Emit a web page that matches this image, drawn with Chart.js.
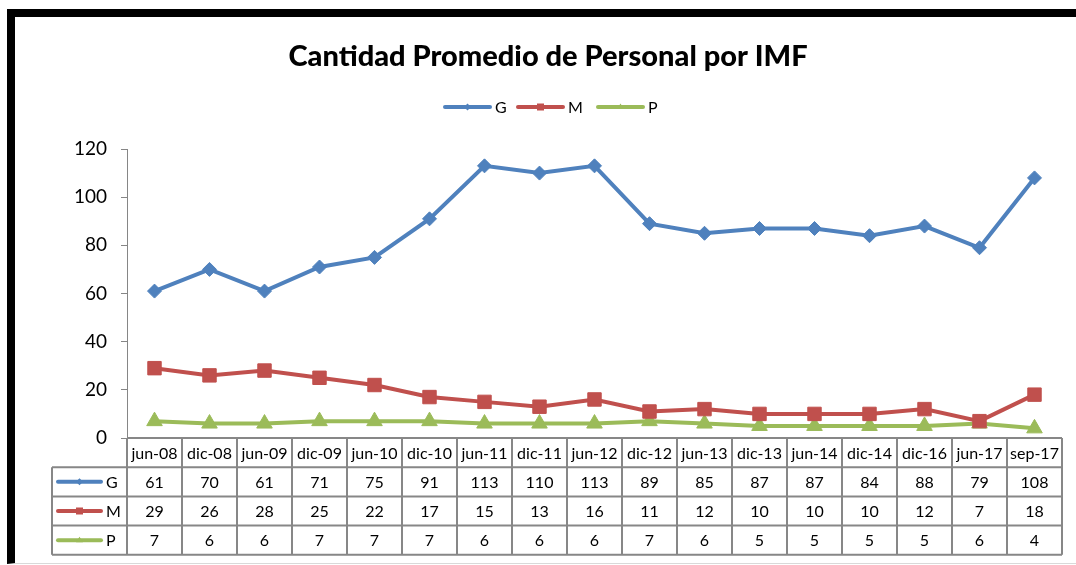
<!DOCTYPE html>
<html><head><meta charset="utf-8">
<script src="https://cdn.jsdelivr.net/npm/chart.js@4.4.0/dist/chart.umd.min.js"></script>
<style>
html,body{margin:0;padding:0;background:#fff;width:1076px;height:565px;overflow:hidden;}
#frame{position:absolute;left:7px;top:9px;width:1200px;height:546px;border-left:8px solid #000;border-top:8px solid #000;border-bottom:1px solid #d9d9d9;}
#wrap{position:absolute;left:0;top:0;width:1076px;height:565px;}
</style></head><body>
<div id="frame"></div>
<div id="wrap"><canvas id="c"></canvas></div>
<script>
const categories = ['jun-08','dic-08','jun-09','dic-09','jun-10','dic-10','jun-11','dic-11','jun-12','dic-12','jun-13','dic-13','jun-14','dic-14','dic-16','jun-17','sep-17'];
const seriesG = [61,70,61,71,75,91,113,110,113,89,85,87,87,84,88,79,108];
const seriesM = [29,26,28,25,22,17,15,13,16,11,12,10,10,10,12,7,18];
const seriesP = [7,6,6,7,7,7,6,6,6,7,6,5,5,5,5,6,4];
const seriesNames = ['G','M','P'];
const yTicks = [0,20,40,60,80,100,120];
const titleText = 'Cantidad Promedio de Personal por IMF';

const colors = ['#4F81BD','#C0504D','#9BBB59'];
const styles = ['rectRot','rect','triangle'];
const radii = [7,9.5,9];
const FONT = 'Lato, "Open Sans", sans-serif';

function drawSymbol(ctx, i, x1, x2, y, small){
  ctx.save();
  ctx.strokeStyle = colors[i]; ctx.fillStyle = colors[i];
  ctx.lineWidth = 4; ctx.lineCap = 'round';
  ctx.beginPath(); ctx.moveTo(x1, y); ctx.lineTo(x2, y); ctx.stroke();
  const cx = (x1+x2)/2, r = small ? 3.5 : 4;
  ctx.beginPath();
  if (i===0){ ctx.moveTo(cx, y-r); ctx.lineTo(cx+r, y); ctx.lineTo(cx, y+r); ctx.lineTo(cx-r, y); }
  else if (i===1){ ctx.rect(cx-r, y-r, 2*r, 2*r); }
  else { ctx.moveTo(cx, y-r); ctx.lineTo(cx+r, y+r*0.6); ctx.lineTo(cx-r, y+r*0.6); }
  ctx.closePath(); ctx.fill();
  ctx.restore();
}

const tablePlugin = {
  id: 'dataTable',
  afterDraw(chart){
    const ctx = chart.ctx, xs = chart.scales.x, area = chart.chartArea;
    const n = categories.length;
    const colW = (area.right - area.left) / n;
    const rowH = 29.2;
    const top = area.bottom;
    const labLeft = 52;
    const rows = [seriesG, seriesM, seriesP];
    ctx.save();
    // title
    ctx.fillStyle = '#000';
    ctx.font = '900 29px ' + FONT;
    ctx.textAlign = 'center'; ctx.textBaseline = 'middle';
    ctx.fillText(titleText, 548, 57);
    // legend
    const legX = [445, 518, 598];
    ctx.font = '16px ' + FONT;
    ctx.textAlign = 'left';
    seriesNames.forEach((nm, i) => {
      drawSymbol(ctx, i, legX[i], legX[i]+45, 107, true);
      ctx.fillStyle = '#000';
      ctx.fillText(nm, legX[i]+50, 108);
    });
    // table grid
    ctx.strokeStyle = '#878787'; ctx.lineWidth = 2;
    const bottom = top + rowH*4;
    ctx.beginPath();
    ctx.moveTo(area.left, top); ctx.lineTo(area.right, top);
    for (let r = 1; r <= 4; r++){ ctx.moveTo(labLeft, top + rowH*r); ctx.lineTo(area.right, top + rowH*r); }
    ctx.moveTo(labLeft, top + rowH); ctx.lineTo(labLeft, bottom);
    for (let c = 0; c <= n; c++){
      const x = c < n ? xs.getPixelForValue(c) - colW/2 : xs.getPixelForValue(n-1) + colW/2;
      ctx.moveTo(x, top); ctx.lineTo(x, bottom);
    }
    ctx.stroke();
    // header text
    ctx.fillStyle = '#000';
    ctx.textAlign = 'center'; ctx.textBaseline = 'middle';
    ctx.font = '16px ' + FONT;
    categories.forEach((c, i) => ctx.fillText(c, xs.getPixelForValue(i), top + rowH/2 + 1));
    rows.forEach((vals, r) => {
      const y = top + rowH*(r+1) + rowH/2 + 1;
      vals.forEach((v, i) => { ctx.fillStyle = '#000'; ctx.fillText(String(v), xs.getPixelForValue(i), y); });
      drawSymbol(ctx, r, 58, 101, y - 1, true);
      ctx.fillStyle = '#000'; ctx.textAlign = 'left';
      ctx.fillText(seriesNames[r], 106, y);
      ctx.textAlign = 'center';
    });
    ctx.restore();
  }
};

const allSeries = [seriesG, seriesM, seriesP];
new Chart(document.getElementById('c'), {
  type: 'line',
  data: {
    labels: categories,
    datasets: allSeries.map((d, i) => ({
      label: seriesNames[i], data: d,
      borderColor: colors[i], backgroundColor: colors[i],
      pointBackgroundColor: colors[i], pointBorderColor: colors[i],
      borderWidth: 4, pointStyle: styles[i], pointRadius: radii[i], pointBorderWidth: 1,
      tension: 0
    }))
  },
  options: {
    responsive: true, maintainAspectRatio: false, animation: false,
    layout: { padding: { left: 0, right: 14, top: 149, bottom: 127 } },
    plugins: { legend: { display: false }, title: { display: false }, tooltip: { enabled: false } },
    scales: {
      x: { display: false, offset: true },
      y: {
        min: 0, max: 120,
        afterBuildTicks(s){ s.ticks = yTicks.map(v => ({ value: v })); },
        afterFit(s){ s.width = 127; },
        grid: { drawOnChartArea: false, drawTicks: true, tickLength: 6, color: '#868686' },
        border: { color: '#868686', width: 1 },
        ticks: { padding: 14, color: '#000', font: { family: FONT, size: 19 } }
      }
    }
  },
  plugins: [tablePlugin]
});
</script>
</body></html>
